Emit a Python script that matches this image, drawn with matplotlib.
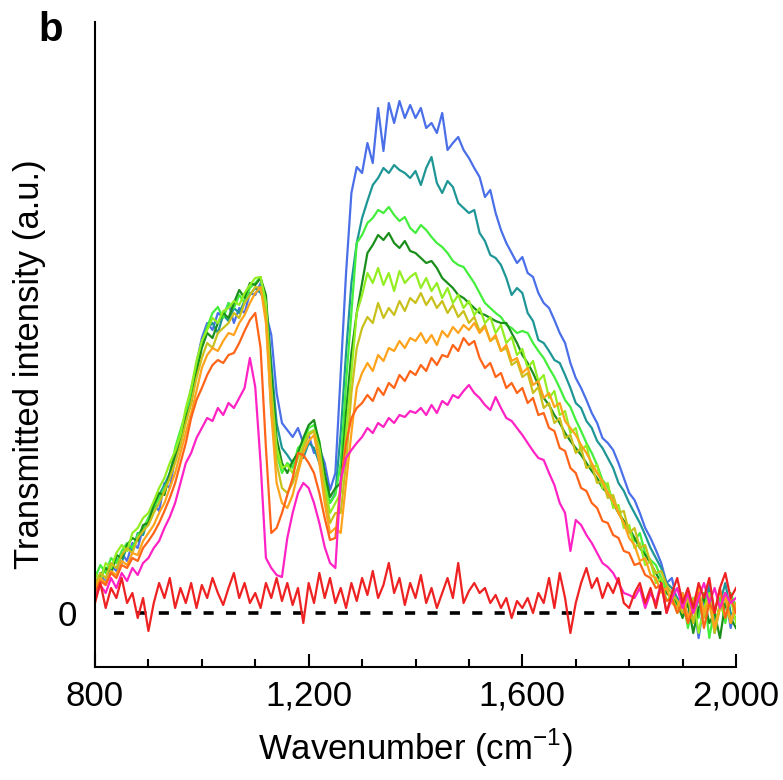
import numpy as np
import matplotlib
matplotlib.use('Agg')
import matplotlib.pyplot as plt
from matplotlib.ticker import MultipleLocator

plt.rcParams['font.family'] = ['Liberation Sans', 'DejaVu Sans']

# wavenumber grid, 800..2000 cm-1 every 10
wn = np.arange(800, 2001, 10)

# transmitted intensity (a.u.)
blue = [25, 40, 30, 48, 42, 60, 52, 70, 65, 85,
        92, 110, 102, 130, 125, 155, 170, 195, 215, 250,
        275, 290, 283, 300, 296, 310, 290, 305, 300, 320,
        318, 330, 300, 278, 220, 190, 183, 176, 185, 170,
        178, 160, 165, 150, 123, 140, 240, 340, 420, 446,
        440, 470, 450, 505, 462, 510, 490, 512, 495, 508,
        495, 505, 485, 490, 480, 500, 463, 470, 476, 463,
        455, 445, 436, 416, 423, 400, 383, 370, 360, 350,
        356, 340, 336, 320, 310, 305, 293, 280, 270, 250,
        235, 225, 213, 200, 190, 175, 170, 163, 150, 135,
        120, 113, 100, 85, 75, 63, 50, 30, 35, 10,
        20, -5, 15, -25, 10, 30, -10, 5, 20, -15,
        10]
teal = [30, 35, 45, 40, 55, 50, 68, 62, 80, 78,
        95, 105, 118, 128, 140, 160, 175, 200, 225, 245,
        270, 285, 290, 280, 298, 292, 305, 300, 312, 318,
        325, 320, 310, 250, 190, 165, 158, 150, 160, 155,
        170, 165, 150, 130, 110, 120, 180, 260, 330, 370,
        395, 412, 428, 435, 445, 440, 448, 443, 440, 435,
        442, 428, 445, 456, 430, 420, 432, 426, 410, 405,
        400, 403, 380, 372, 358, 355, 348, 335, 318, 325,
        320, 300, 292, 273, 270, 262, 253, 250, 238, 225,
        210, 205, 192, 185, 172, 165, 155, 145, 130, 122,
        110, 100, 90, 78, 65, 55, 45, 30, 25, 15,
        5, 20, -10, 15, 0, 25, -20, 10, 30, 0,
        -5]
green = [35, 48, 40, 55, 50, 62, 70, 65, 78, 85,
         95, 105, 115, 125, 135, 165, 183, 200, 220, 246,
         270, 286, 300, 306, 295, 310, 305, 318, 310, 325,
         330, 336, 300, 200, 160, 140, 150, 145, 165, 170,
         185, 188, 172, 135, 110, 118, 150, 230, 300, 370,
         378, 390, 395, 403, 400, 406, 398, 392, 396, 385,
         380, 388, 383, 376, 370, 366, 360, 352, 348, 346,
         338, 330, 320, 310, 305, 300, 296, 288, 285, 280,
         282, 280, 270, 262, 255, 245, 236, 225, 213, 206,
         193, 182, 170, 160, 148, 133, 126, 112, 100, 92,
         82, 72, 80, 60, 53, 48, 35, 25, 20, 5,
         15, -15, 10, -5, 20, -25, 5, 15, -10, 20,
         5]
dkgreen = [30, 38, 45, 40, 58, 55, 68, 75, 72, 88,
           90, 108, 120, 118, 140, 158, 170, 195, 210, 240,
           265, 280, 275, 290, 300, 295, 310, 323, 315, 330,
           328, 335, 318, 240, 175, 150, 140, 152, 160, 175,
           188, 193, 170, 140, 116, 125, 130, 200, 260, 300,
           330, 360, 368, 378, 373, 380, 370, 365, 372, 362,
           360, 355, 350, 352, 345, 335, 330, 325, 318, 315,
           310, 305, 300, 298, 295, 292, 290, 290, 280, 270,
           258, 250, 240, 228, 215, 208, 198, 190, 180, 172,
           165, 158, 150, 142, 135, 125, 120, 110, 100, 92,
           85, 75, 65, 58, 50, 40, 30, 20, 15, 10,
           -5, 10, -20, 5, 15, -10, 0, -25, 10, -5,
           -15]
ltgreen = [40, 32, 50, 45, 60, 68, 62, 80, 85, 95,
           100, 112, 125, 135, 150, 162, 178, 205, 225, 252,
           272, 283, 295, 290, 302, 305, 312, 308, 320, 328,
           335, 336, 310, 225, 165, 145, 148, 140, 155, 168,
           180, 183, 165, 128, 100, 110, 120, 180, 240, 300,
           318, 340, 330, 345, 328, 340, 322, 342, 330, 336,
           340, 325, 335, 322, 330, 315, 325, 310, 318, 305,
           312, 298, 305, 290, 296, 280, 288, 270, 276, 258,
           264, 245, 252, 232, 238, 215, 222, 198, 202, 180,
           185, 162, 168, 145, 148, 125, 130, 105, 108, 85,
           88, 65, 70, 48, 52, 30, 35, 12, 18, 0,
           10, -10, 15, -20, 5, 20, -15, 10, -5, 15,
           -10]
yellow = [28, 40, 35, 50, 45, 58, 65, 60, 75, 82,
          88, 100, 110, 122, 135, 150, 168, 190, 210, 235,
          255, 270, 265, 280, 285, 290, 300, 295, 310, 318,
          326, 325, 300, 220, 150, 125, 120, 130, 145, 165,
          178, 182, 160, 120, 90, 100, 100, 150, 220, 265,
          285, 296, 290, 310, 295, 305, 298, 312, 302, 315,
          310, 320, 308, 316, 305, 312, 300, 308, 296, 302,
          290, 296, 282, 288, 272, 276, 262, 265, 248, 252,
          236, 240, 220, 226, 205, 210, 190, 195, 175, 178,
          160, 165, 145, 148, 130, 132, 115, 118, 100, 102,
          80, 85, 65, 68, 50, 40, 42, 28, 20, 12,
          0, 15, -10, 20, -5, 10, -20, 5, 15, -10,
          5]
orange = [25, 35, 30, 42, 38, 52, 48, 60, 58, 72,
          80, 88, 100, 110, 125, 140, 160, 180, 200, 222,
          245, 258, 265, 262, 272, 280, 278, 290, 298, 310,
          320, 326, 290, 200, 130, 110, 105, 118, 140, 160,
          172, 178, 150, 110, 80, 85, 80, 130, 180, 225,
          240, 250, 242, 258, 252, 265, 262, 272, 265, 275,
          272, 280, 270, 278, 268, 282, 276, 286, 280, 288,
          283, 290, 280, 286, 272, 278, 262, 268, 252, 255,
          240, 245, 228, 232, 215, 220, 206, 210, 192, 185,
          178, 168, 160, 150, 140, 132, 120, 112, 100, 90,
          75, 68, 52, 55, 38, 35, 20, 25, 10, 5,
          20, -5, 10, 25, 0, 15, -15, 5, 20, -10,
          10]
dkorange = [20, 32, 28, 40, 35, 48, 45, 55, 52, 65,
            72, 80, 90, 102, 115, 130, 150, 170, 195, 213,
            225, 238, 248, 253, 250, 258, 260, 270, 282, 293,
            300, 265, 165, 80, 85, 100, 118, 135, 160, 158,
            150, 140, 120, 95, 73, 75, 130, 170, 195, 205,
            210, 218, 212, 225, 218, 230, 225, 238, 232, 242,
            238, 248, 242, 255, 248, 258, 256, 268, 262, 275,
            268, 272, 255, 245, 250, 236, 240, 225, 230, 220,
            225, 210, 215, 198, 200, 185, 182, 165, 162, 145,
            140, 125, 122, 110, 105, 92, 90, 78, 75, 62,
            60, 48, 50, 38, 35, 25, 28, 12, 15, 0,
            10, -10, 5, 20, -15, 10, 0, 25, -5, 15,
            0]
magenta = [15, 28, 20, 35, 25, 40, 32, 45, 38, 50,
           55, 65, 72, 85, 96, 110, 130, 150, 160, 175,
           185, 195, 192, 205, 198, 210, 205, 215, 225, 255,
           226, 150, 55, 45, 38, 36, 75, 100, 120, 130,
           125, 110, 90, 66, 50, 45, 133, 155, 163, 170,
           176, 185, 180, 190, 186, 195, 190, 198, 196, 202,
           200, 205, 198, 208, 200, 212, 208, 218, 215, 222,
           228, 220, 215, 208, 203, 216, 205, 195, 192, 185,
           178, 170, 162, 155, 153, 140, 128, 110, 100, 62,
           93, 88, 78, 70, 60, 50, 46, 40, 30, 20,
           18, 15, 25, 5, 20, 10, 30, 0, 15, 25,
           5, 20, 0, 15, 30, 10, 25, 5, 20, 10,
           15]
red = [10, 30, 5, 25, 15, 35, 10, 20, -5, 15,
       -18, 10, 30, 15, 35, 5, 25, 10, 30, 5,
       28, 15, 35, 20, 8, 25, 40, 15, 30, 10,
       20, 5, 30, 15, 35, 12, 30, 8, 25, -10,
       30, 10, 40, 15, 35, 10, 25, 5, 30, 12,
       35, 18, 42, 15, 28, 50, 20, 35, 8, 30,
       15, 38, 10, 25, 5, 20, 35, 15, 50, 10,
       22, 30, 20, 25, 10, 18, 5, 15, -5, 12,
       5, 15, 0, 20, 10, 35, 5, 40, 15, -20,
       10, 30, 45, 25, 35, 15, 30, 20, 35, 10,
       5, 20, 30, 10, 25, 5, 30, 0, 20, 35,
       10, 25, 5, 30, 15, 35, 0, 25, 40, 15,
       25]

series = [blue, teal, green, dkgreen, ltgreen, yellow, orange, dkorange, magenta, red]
colors = ['#4a6fe8', '#1f9696', '#44ee3c', '#1b8f1b', '#93ee22',
          '#c9c01c', '#ffa31c', '#ff6418', '#ff22c4', '#ee2222']

fig = plt.figure(figsize=(7.83, 7.80), dpi=100)
ax = fig.add_axes([95/783, 113/780, 641/783, 645/780])

ax.hlines(0, 835, 1870, color='k', lw=2.6, linestyles=(0, (2.8, 3.4)), zorder=1)
for y, c in zip(series, colors):
    ax.plot(wn, y, color=c, lw=1.6, zorder=2)

ax.set_xlim(800, 2000)
ax.set_ylim(-54, 591)
ax.spines['top'].set_visible(False)
ax.spines['right'].set_visible(False)
ax.spines['left'].set_linewidth(1.5)
ax.spines['bottom'].set_linewidth(1.5)

ax.set_xticks([800, 1200, 1600, 2000])
ax.set_xticklabels(['800', '1,200', '1,600', '2,000'])
ax.xaxis.set_minor_locator(MultipleLocator(100))
ax.tick_params(axis='x', which='major', direction='in', length=9.5, width=1.5,
               labelsize=25, pad=9)
ax.tick_params(axis='x', which='minor', direction='in', length=5.5, width=1.5)
ax.set_yticks([0])
ax.set_yticklabels(['0'])
ax.tick_params(axis='y', length=0, labelsize=25, pad=13)

ax.set_xlabel(r'Wavenumber (cm$^{\mathregular{-1}}$)', fontsize=25)
ax.xaxis.set_label_coords(0.5, -0.092)
ax.set_ylabel('Transmitted intensity (a.u.)', fontsize=25)
ax.yaxis.set_label_coords(-0.077, 0.47)

fig.text(38/783, 1 - 30/780, 'b', fontsize=29, fontweight='bold', va='center')

plt.savefig('out.png', dpi=100)
plt.close()
